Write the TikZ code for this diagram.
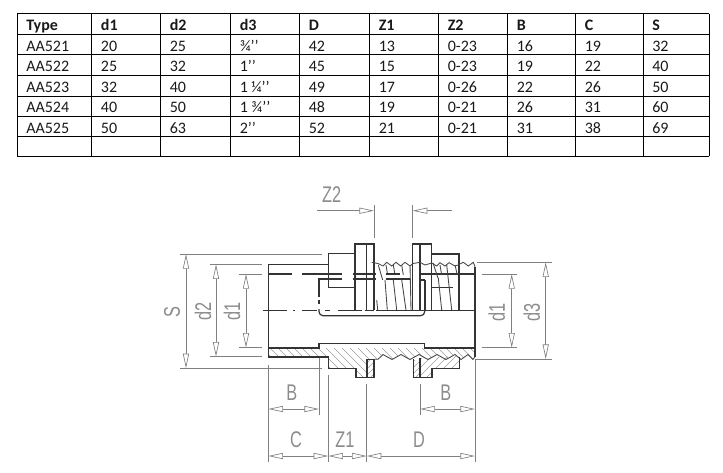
\documentclass[tikz,border=0pt]{standalone}
\usepackage{fontspec}
\setmainfont{Carlito}
\newfontfamily\dimfont{Liberation Sans}
\usetikzlibrary{arrows.meta}
\tikzset{
  cell/.style={anchor=base west,inner sep=0pt,font=\fontsize{12}{14}\selectfont,text=black!90},
  headcell/.style={cell,font=\fontsize{12}{14}\selectfont\bfseries},
  rule/.style={line width=.75pt,black},
  body/.style={line width=.9pt,black!80},
  thin body/.style={line width=.65pt,black!72},
  dim/.style={line width=.55pt,black!50},
  dimarrow/.style={dim,-{Triangle[length=11pt,width=4.6pt,fill=white,line width=.5pt]}},
  dimboth/.style={dim,{Triangle[length=11pt,width=4.6pt,fill=white,line width=.5pt]}-{Triangle[length=11pt,width=4.6pt,fill=white,line width=.5pt]}},
  hatch/.style={line width=.4pt,black!38},
  dimlabel/.style={inner sep=0pt,text=black!45,font=\dimfont\fontsize{17}{17}\selectfont}
}
\newcommand{\dimtext}[1]{\scalebox{.72}[1]{#1}}
\newcommand{\inch}{’{}’}
\begin{document}
\begin{tikzpicture}[x=.75pt,y=-.75pt]
\useasboundingbox (0,0) rectangle (723,472);
% table grid
\foreach \yy in {13.5,34.3,54.7,75.5,96,116.3,136.3,156} \draw[rule] (17.3,\yy) -- (709.3,\yy);
\foreach \xx in {17.3,91.5,160.3,230.3,299.3,369.3,438.3,507.3,575.3,643.3,709.3} \draw[rule] (\xx,13.5) -- (\xx,156);
% header
\foreach \xx/\tt [count=\c] in {26/Type,100.7/d1,169.5/d2,239.5/d3,308.5/D,378.5/Z1,447.5/Z2,516.5/B,584.5/C,652/S}
  \node[headcell] (h\c) at (\xx,30) {\tt};
% rows
\foreach \yy/\r/\a/\b/\e/\f/\g/\h/\i/\j/\k in {
 51/1/AA521/20/25/{¾\inch}/42/13/0-23/16/{19/32},
 71.3/2/AA522/25/32/{1\inch}/45/15/0-23/19/{22/40},
 92/3/AA523/32/40/{1 ¼\inch}/49/17/0-26/22/{26/50},
 112.3/4/AA524/40/50/{1 ¾\inch}/48/19/0-21/26/{31/60},
 133/5/AA525/50/63/{2\inch}/52/21/0-21/31/{38/69}}{
  \node[cell] (a\r) at (26,\yy) {\a};
  \node[cell] (b\r) at (100.7,\yy) {\b};
  \node[cell] (c\r) at (169.5,\yy) {\e};
  \node[cell] (d\r) at (239.5,\yy) {\f};
  \node[cell] (e\r) at (308.5,\yy) {\g};
  \node[cell] (f\r) at (378.5,\yy) {\h};
  \node[cell] (g\r) at (447.5,\yy) {\i};
  \node[cell] (i\r) at (516.5,\yy) {\j};
  \foreach \p/\q in \k {
    \node[cell] (j\r) at (584.5,\yy) {\p};
    \node[cell] (k\r) at (652,\yy) {\q};
  }
}
% hatching
\begin{scope}
  \clip (268.3,348) -- (475,348) -- (475,354.5) -- (473,359.5) -- (468,354.5) -- (461,359.5) -- (455,354.5) -- (446,359.5) -- (437,354.5) -- (428,359.5) -- (419,354.5) -- (410,359.5) -- (401,354.5) -- (392,359.5) -- (383,354.5) -- (378,359.3) -- (366.7,359.3) -- (366.7,377.3) -- (356,377.3) -- (356,368.3) -- (328.3,368.3) -- (328.3,356.7) -- (268.3,356.7) -- cycle;
  \foreach \i in {230,238,...,470} \draw[hatch] (\i,340) -- (\i+40,380);
\end{scope}
\begin{scope}
  \clip (366.7,359.3) rectangle (374,377.3);
  \foreach \i in {350,356,...,390} \draw[hatch] (\i,380) -- (\i+25,355);
\end{scope}
\begin{scope}
  \clip (413.3,360) rectangle (420,377.3);
  \foreach \i in {395,401,...,435} \draw[hatch] (\i,380) -- (\i+25,355);
\end{scope}
\begin{scope}
  \clip (420,358) -- (459.3,356) -- (459.3,368.3) -- (431.7,368.3) -- (431.7,377.3) -- (420,377.3) -- cycle;
  \foreach \i in {400,408,...,460} \draw[hatch] (\i,380) -- (\i+28,352);
\end{scope}
% body outline: sleeve
\draw[body,line width=1.2pt] (328.3,264.3) -- (268.3,264.3) -- (268.3,356.7);
\draw[body] (328.3,287.3) -- (328.3,253.7) -- (355,253.7);
\draw[body] (328.3,287.3) -- (355,287.3);
% left nut
\draw[body] (355,310) -- (355,244) -- (374,244) -- (374,310);
\draw[body] (366.4,244) -- (366.4,310);
% right nut
\draw[body] (412.7,310) -- (412.7,244) -- (431.7,244) -- (431.7,310);
\draw[body] (420,244) -- (420,310);
\draw[body] (431.7,254) -- (459,254) -- (459,310);
\draw[body] (431.7,287.3) -- (453,287.3);
\draw[body] (420,274) -- (475,274);
\draw[body] (425,280) -- (425,310);
\draw[body] (420,280) -- (425,280);
% upper thread profile
\draw[thin body] (371.7,262.3) -- (378,263.5) -- (383,266) -- (386.7,262.3) -- (391.7,266) -- (396,262.3) -- (400.7,266) -- (405,262.3) -- (410,266) -- (413,263.5) -- (420,262.3) -- (425,265) -- (431.7,263) -- (436.7,266) -- (440,262.7) -- (445,266) -- (449,262.7) -- (455,266) -- (458,265) -- (463.3,262.3) -- (468.3,266) -- (473.3,262.3) -- (475,266.7);
\draw[body,line width=1.2pt] (475,266.7) -- (475,356.7);
% thread flanks
\foreach \xa/\ya/\xb/\yb in {378.3/265/382.7/280,376.7/300/377.7/310,386/265/387.3/273,385/280/387.3/310,393.3/265/395/275,393.3/280/396.7/310,401.7/265/403.3/275,401.7/280/406/310,410/265/411/310,433/263/438/278,438.3/278/441.7/310,440/265/441.7/275,446.7/265/451.7/310,455/265/457.3/275}
  \draw[thin body] (\xa,\ya) -- (\xb,\yb);
% dashed inner lines
\foreach \xa/\xb in {268.3/292,302/342,352.7/376,386/400}
  \draw[body] (\xa,274) -- (\xb,274);
\foreach \xa/\xb in {318/342,352.7/376,386/410}
  \draw[body] (\xa,279) -- (\xb,279);
\draw[body] (319,279) -- (319,297);
\draw[body] (319,300) -- (319,304);
% centre line
\foreach \xa/\xb in {263/287,293/295,302/317,325/330,338/362,365/374,376/475}
  \draw[body] (\xa,310.5) -- (\xb,310.5);
\draw[body,rounded corners=3pt] (319,309) -- (319,315.7) -- (424.7,315.7) -- (424.7,309);
% lower half
\draw[body] (268.3,348) -- (319,348) -- (319,343.3) -- (424.7,343.3) -- (424.7,348) -- (475,348);
\draw[body,line width=1.2pt] (268.3,356.7) -- (328.3,356.7) -- (328.3,368.3) -- (356,368.3) -- (356,377.3) -- (374,377.3) -- (374,359.3) -- (366.7,359.3) -- (366.7,377.3);
\draw[thin body] (374,359.3) -- (378,359.3) -- (383,354.5) -- (392,359.5) -- (401,354.5) -- (410,359.5) -- (419,354.5) -- (428,359.5) -- (437,354.5) -- (446,359.5) -- (455,354.5) -- (461,359.5) -- (468,354.5) -- (473,359.5) -- (475,356.7);
\draw[body,line width=1.2pt] (413.3,358.7) -- (413.3,377.3) -- (431.7,377.3) -- (431.7,368.3) -- (459.3,368.3) -- (459.3,357);
\draw[body,line width=1.2pt] (420,357.5) -- (420,377.3);
% dimension extension lines
\draw[dim] (180,254) -- (322,254);
\draw[dim] (180,368.3) -- (322,368.3);
\draw[dim] (210,264.3) -- (262,264.3);
\draw[dim] (210,356.7) -- (262,356.7);
\draw[dim] (239,274) -- (262,274);
\draw[dim] (239,347.7) -- (262,347.7);
\draw[dim] (481.7,274) -- (516.7,274);
\draw[dim] (481.7,347.7) -- (516.7,347.7);
\draw[dim] (476.7,262.3) -- (551.7,262.3);
\draw[dim] (475,359) -- (551.7,359);
\draw[dim] (374,205) -- (374,238);
\draw[dim] (412.7,205) -- (412.7,238);
\draw[dim] (268.3,365) -- (268.3,461.7);
\draw[dim] (319,358) -- (319,415);
\draw[dim] (328.3,375) -- (328.3,461.7);
\draw[dim] (366.7,384) -- (366.7,461.7);
\draw[dim] (420,384) -- (420,415);
\draw[dim] (475,359) -- (475,461.7);
% dimension lines
\coordinate (sT) at (186,254); \coordinate (sB) at (186,368.3);
\coordinate (d2T) at (216,264.3); \coordinate (d2B) at (216,356.7);
\coordinate (d1T) at (246,274); \coordinate (d1B) at (246,347.7);
\coordinate (raT) at (511.7,274); \coordinate (raB) at (511.7,347.7);
\coordinate (d3T) at (545.7,262.3); \coordinate (d3B) at (545.7,359);
\coordinate (zL0) at (316.7,210.7); \coordinate (zL) at (374,210.7);
\coordinate (zR0) at (451.7,210.7); \coordinate (zR) at (412.7,210.7);
\coordinate (bL) at (268.3,409); \coordinate (bR) at (319,409);
\coordinate (b2L) at (420,409); \coordinate (b2R) at (475,409);
\coordinate (cL) at (268.3,456); \coordinate (cR) at (328.3,456);
\coordinate (zM) at (366.7,456); \coordinate (dR) at (475,456);
\foreach \p/\q in {sT/sB,d2T/d2B,d1T/d1B,raT/raB,d3T/d3B,bL/bR,b2L/b2R,cL/cR,cR/zM,zM/dR}
  \draw[dimboth] (\p) -- (\q);
\draw[dimarrow] (zL0) -- (zL);
\draw[dimarrow] (zR0) -- (zR);
% dimension labels
\node[dimlabel] (lZ2) at (331.7,195) {\dimtext{Z2}};
\node[dimlabel,rotate=90] (lS) at (172,312) {\dimtext{S}};
\node[dimlabel,rotate=90] (ld2) at (203,311) {\dimtext{d2}};
\node[dimlabel,rotate=90] (ld1) at (232,311) {\dimtext{d1}};
\node[dimlabel,rotate=90] (lr1) at (496.7,312) {\dimtext{d1}};
\node[dimlabel,rotate=90] (ld3) at (531.7,312) {\dimtext{d3}};
\node[dimlabel] (lB) at (291.7,393) {\dimtext{B}};
\node[dimlabel] (lB2) at (445.7,393) {\dimtext{B}};
\node[dimlabel] (lC) at (296,439.5) {\dimtext{C}};
\node[dimlabel] (lZ1) at (345,440) {\dimtext{Z1}};
\node[dimlabel] (lD) at (419,440) {\dimtext{D}};
\end{tikzpicture}
\end{document}
